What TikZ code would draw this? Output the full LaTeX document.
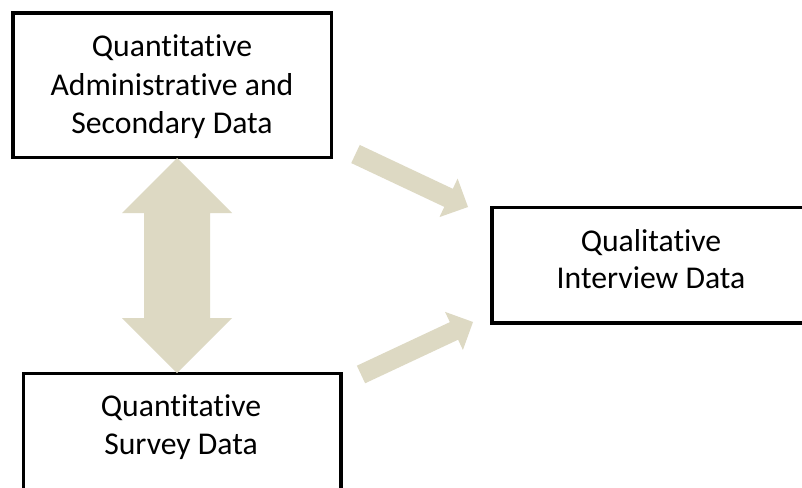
\documentclass[tikz,border=0pt]{standalone}
\usepackage{fontspec}
\setmainfont{Carlito}[Ligatures=NoCommon]
\usetikzlibrary{calc}
\definecolor{arrowtan}{HTML}{DDD9C3}
\tikzset{
  databox/.style={draw=black, line width=3.5pt, fill=none, inner sep=0pt},
  boxtext/.style={align=center, inner sep=0pt, font=\fontsize{31.7}{38.5}\selectfont},
  blockfill/.style={fill=arrowtan, draw=none}
}
% #1 tail centre, #2 tip, #3 half shaft width, #4 half head width, #5 head length
\newcommand{\blkarrow}[5]{%
  \coordinate (#1-hb) at ($(#2)!#5!(#1)$);
  \fill[blockfill] ($(#1)!#3!90:(#2)$) -- ($(#1-hb)!#3!90:(#2)$) -- ($(#1-hb)!#4!90:(#2)$)
    -- (#2) -- ($(#1-hb)!#4!-90:(#2)$) -- ($(#1-hb)!#3!-90:(#2)$) -- ($(#1)!#3!-90:(#2)$) -- cycle;
}
% double block arrow between tips #1 and #2
\newcommand{\dblkarrow}[5]{%
  \coordinate (#1-hb) at ($(#1)!#5!(#2)$);
  \coordinate (#2-hb) at ($(#2)!#5!(#1)$);
  \fill[blockfill] (#1) -- ($(#1-hb)!#4!90:(#2)$) -- ($(#1-hb)!#3!90:(#2)$)
    -- ($(#2-hb)!#3!90:(#2)$) -- ($(#2-hb)!#4!90:(#2)$) -- (#2)
    -- ($(#2-hb)!#4!-90:(#2)$) -- ($(#2-hb)!#3!-90:(#2)$)
    -- ($(#1-hb)!#3!-90:(#2)$) -- ($(#1-hb)!#4!-90:(#2)$) -- cycle;
}
\begin{document}
\begin{tikzpicture}[x=1pt,y=-1pt]
\useasboundingbox (0,0) rectangle (802,487);
\clip (0,0) rectangle (802,487);
\fill[white] (0,0) rectangle (802,487);

% boxes
\node[databox, minimum width=318.5pt, minimum height=144.5pt] (adm) at (172.25,85.25) {};
\node[databox, minimum width=320pt, minimum height=115.5pt] (qual) at (652,265.25) {};
\node[databox, minimum width=317.5pt, minimum height=226.5pt] (surv) at (182.25,486.75) {};

% texts
\node[boxtext] (admtext) at (172,87) {Quantitative\\Administrative and\\Secondary Data};
\node[boxtext, font=\fontsize{31.7}{36.5}\selectfont] (qualtext) at (651,259) {Qualitative\\Interview Data};
\node[boxtext] (survtext) at (181,427) {Quantitative\\Survey Data};

% arrows
\coordinate (dtop) at (177,158);
\coordinate (dbot) at (177,373);
\dblkarrow{dtop}{dbot}{33pt}{55pt}{55pt}

\coordinate (aone) at (355.5,154);
\coordinate (aonetip) at (468,207);
\blkarrow{aone}{aonetip}{10pt}{21.25pt}{21.5pt}

\coordinate (atwo) at (361,374.5);
\coordinate (atwotip) at (473,322);
\blkarrow{atwo}{atwotip}{9.7pt}{21pt}{21pt}
\end{tikzpicture}
\end{document}
